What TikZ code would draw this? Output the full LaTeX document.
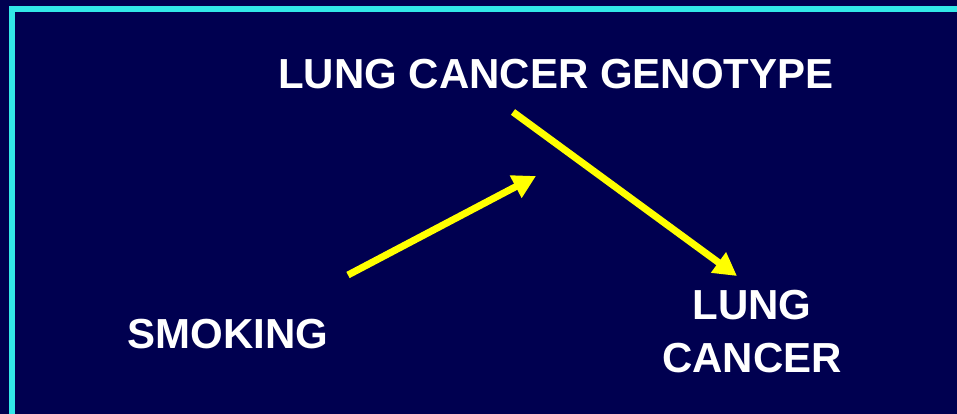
\documentclass[tikz,border=0pt]{standalone}
\usepackage{fontspec}
\setmainfont{Liberation Sans}
\usepackage{xcolor}
\usetikzlibrary{arrows.meta,positioning}
\definecolor{slidebg}{RGB}{0,0,80}
\definecolor{slideframe}{RGB}{50,232,232}
\definecolor{arrowyel}{RGB}{255,255,0}
\tikzset{
  lbl/.style={text=white,font=\fontsize{42}{53}\selectfont\bfseries,
              align=center,inner sep=0pt,anchor=base},
  arr/.style={-{Triangle[length=23pt,width=24pt]},line width=7pt,color=arrowyel},
}
\begin{document}
\begin{tikzpicture}[x=1pt,y=-1pt]
    % ── Background and frame
    \fill[slidebg] (0,0) rectangle (957,414);
    \useasboundingbox (0,0) rectangle (957,414);
    \draw[slideframe,line width=6pt] (12,414) |- (957,9);

    % ── Labels
    \node[lbl] (geno) at (556,89)  {LUNG CANCER GENOTYPE};
    \node[lbl] (smok) at (228,348) {SMOKING};
    \node[lbl] (lung) at (752,372) {LUNG\\CANCER};

    % ── Arrow end points
    \coordinate (smokout) at (348,275);
    \coordinate (genoin)  at (536,176);
    \coordinate (genoout) at (513,112);
    \coordinate (lungin)  at (737,276);

    % ── Arrows
    \draw[arr] (smokout)--(genoin);
    \draw[arr] (genoout)--(lungin);
\end{tikzpicture}
\end{document}
